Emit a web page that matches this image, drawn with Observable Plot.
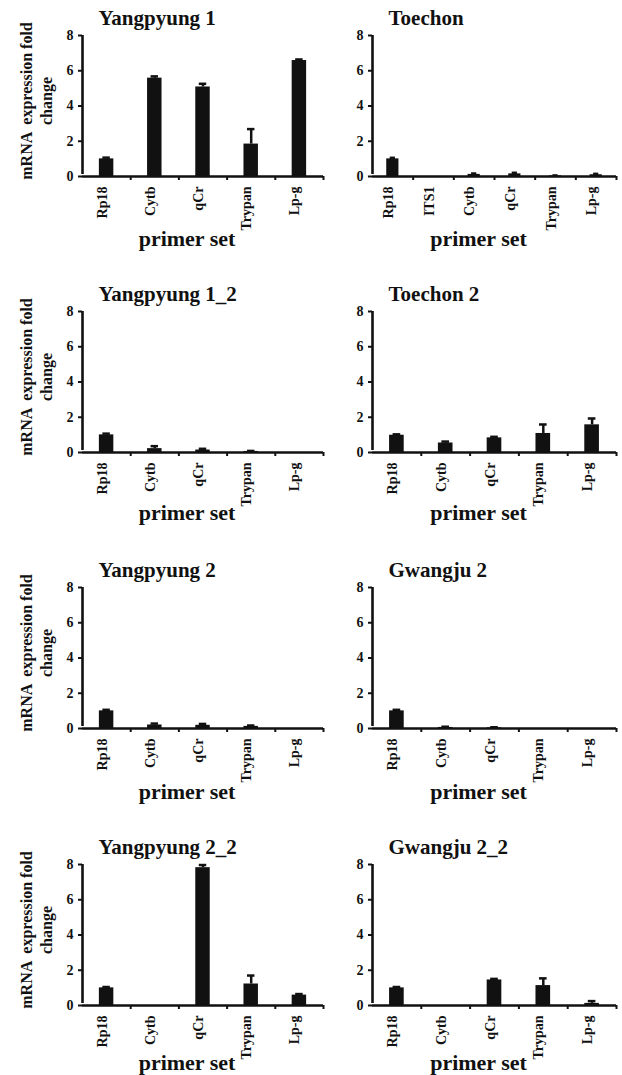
<!DOCTYPE html>
<html>
<head>
<meta charset="utf-8">
<script src="https://cdn.jsdelivr.net/npm/d3@7"></script>
<script src="https://cdn.jsdelivr.net/npm/@observablehq/plot@0.6"></script>
<style>
  html, body { margin: 0; padding: 0; background: #fff; overflow: hidden; }
  #chart { position: relative; width: 622px; height: 1075px; overflow: hidden; background: #fff; }
  #chart svg { position: absolute; background: transparent; overflow: visible; }
</style>
</head>
<body>
<div id="chart"></div>
<script>
// ---------- data ----------
const primers5 = ["Rp18", "Cytb", "qCr", "Trypan", "Lp-g"];
const primers6 = ["Rp18", "ITS1", "Cytb", "qCr", "Trypan", "Lp-g"];

const titles = ["Yangpyung 1", "Toechon", "Yangpyung 1_2", "Toechon 2",
                "Yangpyung 2", "Gwangju 2", "Yangpyung 2_2", "Gwangju 2_2"];

const yangpyung1     = [1.00, 5.58, 5.08, 1.84, 6.58];
const yangpyung1Err  = [0.07, 0.10, 0.18, 0.85, 0.06];
const toechon        = [1.00, 0.00, 0.12, 0.15, 0.04, 0.10];
const toechonErr     = [0.06, 0.00, 0.05, 0.06, 0.02, 0.05];
const yangpyung1_2   = [1.00, 0.22, 0.14, 0.06, 0.00];
const yangpyung1_2Err= [0.07, 0.14, 0.07, 0.03, 0.00];
const toechon2       = [0.98, 0.54, 0.83, 1.08, 1.57];
const toechon2Err    = [0.05, 0.08, 0.06, 0.51, 0.36];
const yangpyung2     = [1.00, 0.20, 0.18, 0.12, 0.00];
const yangpyung2Err  = [0.06, 0.08, 0.08, 0.05, 0.00];
const gwangju2       = [1.00, 0.06, 0.04, 0.00, 0.00];
const gwangju2Err    = [0.06, 0.04, 0.03, 0.00, 0.00];
const yangpyung2_2   = [1.00, 0.00, 7.82, 1.22, 0.59];
const yangpyung2_2Err= [0.05, 0.00, 0.15, 0.48, 0.06];
const gwangju2_2     = [1.00, 0.00, 1.45, 1.13, 0.12];
const gwangju2_2Err  = [0.05, 0.00, 0.06, 0.41, 0.13];

const yTicks = [0, 2, 4, 6, 8];
const yDomain = [0, 8];
const yLabel = "mRNA  expression fold\nchange";
const xLabel = "primer set";

const panels = [
  {title: titles[0], cats: primers5, values: yangpyung1,   errors: yangpyung1Err},
  {title: titles[1], cats: primers6, values: toechon,      errors: toechonErr},
  {title: titles[2], cats: primers5, values: yangpyung1_2, errors: yangpyung1_2Err},
  {title: titles[3], cats: primers5, values: toechon2,     errors: toechon2Err},
  {title: titles[4], cats: primers5, values: yangpyung2,   errors: yangpyung2Err},
  {title: titles[5], cats: primers5, values: gwangju2,     errors: gwangju2Err},
  {title: titles[6], cats: primers5, values: yangpyung2_2, errors: yangpyung2_2Err},
  {title: titles[7], cats: primers5, values: gwangju2_2,   errors: gwangju2_2Err}
];

// ---------- layout ----------
const rowTops = [35, 311, 587, 864];
const xLabelOffset = [69, 67, 70, 64];
const cols = [
  {left: 0,   width: 330, marginLeft: 82, marginRight: 7},
  {left: 300, width: 322, marginLeft: 72, marginRight: 6}
];
const marginTop = 35, innerH = 141, marginBottom = 80;
const ink = "#111";
const font = "'Liberation Serif', 'Times New Roman', Times, serif";

const chart = document.getElementById("chart");

panels.forEach((p, i) => {
  const col = cols[i % 2];
  const row = Math.floor(i / 2);
  const data = p.cats.map((c, j) => ({cat: c, v: p.values[j], e: p.errors[j]}));
  const errData = data.filter(d => d.e > 0);
  const n = p.cats.length;
  const innerW = col.width - col.marginLeft - col.marginRight;
  const step = innerW / n;

  const marks = [
    Plot.barY(data, {x: "cat", y: "v", fill: ink}),
    Plot.ruleX(errData, {x: "cat", y1: "v", y2: d => d.v + d.e, stroke: ink, strokeWidth: 2.5}),
    Plot.tickY(errData, {x: "cat", y: d => d.v + d.e, stroke: ink, strokeWidth: 2.5, insetLeft: 3.5, insetRight: 3.5}),
    // x axis line
    Plot.ruleY([yDomain[0]], {stroke: ink, strokeWidth: 2.6}),
    // y axis line
    Plot.ruleX([p.cats[0]], {y1: yDomain[0], y2: yDomain[1], dx: -step / 2, insetTop: -2, stroke: ink, strokeWidth: 2.6}),
    // x boundary ticks
    Plot.ruleX(p.cats.slice(1), {dx: -step / 2, insetTop: innerH, insetBottom: -4, stroke: ink, strokeWidth: 2}),
    Plot.ruleX([p.cats[n - 1]], {dx: step / 2, insetTop: innerH, insetBottom: -4, stroke: ink, strokeWidth: 2}),
    // y ticks and labels
    Plot.ruleY(yTicks, {insetLeft: -4, insetRight: innerW, stroke: ink, strokeWidth: 2}),
    Plot.text(yTicks, {y: d => d, frameAnchor: "left", textAnchor: "end", dx: -9, fontSize: 14, fill: ink}),
    // x tick labels
    Plot.text(p.cats, {x: d => d, frameAnchor: "bottom", rotate: -90, textAnchor: "end", dy: 10, fontSize: 14, fill: ink}),
    // title
    Plot.text([p.title], {frameAnchor: "top-left", textAnchor: "start", lineAnchor: "bottom", dx: 16, dy: -11, fontSize: 21, fill: ink}),
    // x label
    Plot.text([xLabel], {frameAnchor: "bottom", textAnchor: "middle", lineAnchor: "bottom", dx: -16, dy: xLabelOffset[row], fontSize: 22, fill: ink})
  ];
  if (i % 2 === 0) {
    marks.push(Plot.text([yLabel], {frameAnchor: "left", textAnchor: "middle", rotate: -90, dx: -47, dy: -5, fontSize: 16, lineHeight: 1.25, fill: ink}));
  }

  const svg = Plot.plot({
    width: col.width,
    height: marginTop + innerH + marginBottom,
    marginTop, marginBottom,
    marginLeft: col.marginLeft,
    marginRight: col.marginRight,
    x: {domain: p.cats, paddingInner: 0.7, paddingOuter: 0.35, round: false, axis: null},
    y: {domain: yDomain, axis: null},
    style: {fontFamily: font, fontWeight: "bold", color: ink, background: "transparent", overflow: "visible"},
    marks
  });
  svg.style.left = col.left + "px";
  svg.style.top = (rowTops[row] - marginTop) + "px";
  svg.style.maxWidth = "none";
  chart.appendChild(svg);
});
</script>
</body>
</html>
